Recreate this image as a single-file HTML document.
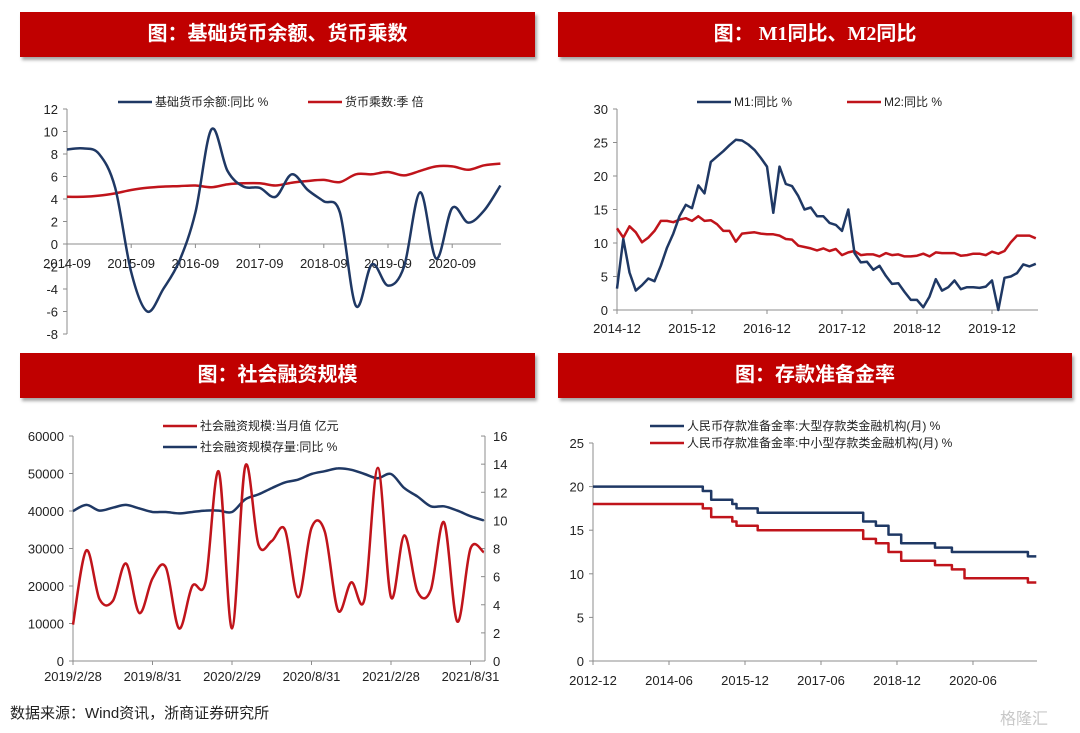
<!DOCTYPE html>
<html><head><meta charset="utf-8">
<style>
body{margin:0;background:#fff;width:1080px;height:733px;overflow:hidden;position:relative;font-family:"Liberation Sans","Noto Sans CJK SC",sans-serif;}
.banner{position:absolute;height:45px;background:#c00000;color:#fff;font-weight:bold;font-size:20px;line-height:45px;text-align:center;box-shadow:2px 3px 3px rgba(0,0,0,0.35);font-family:"Liberation Serif","Noto Sans CJK SC",sans-serif;}
svg{position:absolute;left:0;top:0;}
svg text{font-family:"Liberation Sans","Noto Sans CJK SC",sans-serif;fill:#222;}
</style></head><body>
<div class="banner" style="left:20px;top:12px;width:515px">图：基础货币余额、货币乘数</div>
<div class="banner" style="left:558px;top:12px;width:514px">图： M1同比、M2同比</div>
<div class="banner" style="left:20px;top:353px;width:515px">图：社会融资规模</div>
<div class="banner" style="left:558px;top:353px;width:514px">图：存款准备金率</div>
<svg id="s" width="1080" height="733">
<text x="10" y="718" font-size="15">数据来源：Wind资讯，浙商证券研究所</text>
<text x="1000" y="724" font-size="16" style="fill:#c8c8c8">格隆汇</text>
</svg>
<script>
// ---- Chart 1: base money & multiplier (quarterly, from 2014-09)
const c1Ticks=["2014-09","2015-09","2016-09","2017-09","2018-09","2019-09","2020-09"];
const c1Base=[8.4,8.5,8.0,5.0,-2.5,-6.0,-4.0,-1.5,2.8,10.2,6.5,5.1,5.0,4.2,6.2,4.8,3.8,2.8,-5.5,-1.8,-3.7,-2.0,4.6,-1.3,3.2,1.9,3.0,5.2];
const c1Mult=[4.2,4.2,4.3,4.5,4.8,5.0,5.1,5.15,5.2,5.05,5.3,5.4,5.4,5.2,5.45,5.6,5.7,5.5,6.2,6.2,6.4,6.1,6.5,6.9,6.9,6.6,7.0,7.15];
// ---- Chart 2: M1, M2 (monthly, from 2014-12)
const c2Ticks=["2014-12","2015-12","2016-12","2017-12","2018-12","2019-12"];
const c2M1=[3.2,10.6,5.6,2.9,3.7,4.7,4.3,6.6,9.3,11.4,14.0,15.7,15.2,18.6,17.4,22.1,22.9,23.7,24.6,25.4,25.3,24.7,23.9,22.7,21.4,14.5,21.4,18.8,18.5,17.0,15.0,15.3,14.0,14.0,13.0,12.7,11.8,15.0,8.5,7.1,7.2,6.0,6.6,5.1,3.9,4.0,2.7,1.5,1.5,0.4,2.0,4.6,2.9,3.4,4.4,3.1,3.4,3.4,3.3,3.5,4.4,0.0,4.8,5.0,5.5,6.8,6.5,6.9];
const c2M2=[12.2,10.8,12.5,11.6,10.1,10.8,11.8,13.3,13.3,13.1,13.5,13.7,13.3,14.0,13.3,13.4,12.8,11.8,11.8,10.2,11.4,11.5,11.6,11.4,11.3,11.3,11.1,10.6,10.5,9.6,9.4,9.2,8.9,9.2,8.8,9.1,8.2,8.6,8.8,8.2,8.3,8.3,8.0,8.5,8.2,8.3,8.0,8.0,8.1,8.4,8.0,8.6,8.5,8.5,8.5,8.1,8.2,8.4,8.4,8.2,8.7,8.4,8.8,10.1,11.1,11.1,11.1,10.7];
// ---- Chart 3: TSF (monthly, from 2019-02)
const c3Ticks=["2019/2/28","2019/8/31","2020/2/29","2020/8/31","2021/2/28","2021/8/31"];
const c3Flow=[9700,29500,16500,16000,26000,12800,22000,25000,8700,20000,21000,50500,8700,52000,31000,32000,35000,17000,35500,34500,13500,21000,16500,51500,17000,33500,18500,19000,37000,10500,30000,29000];
const c3Stock=[10.66,11.1,10.7,10.9,11.1,10.85,10.6,10.6,10.5,10.6,10.7,10.7,10.6,11.5,11.85,12.3,12.7,12.9,13.3,13.5,13.7,13.6,13.3,13.0,13.3,12.3,11.7,11.0,11.0,10.7,10.3,10.0];
// ---- Chart 4: RRR step changes (month index from 2012-12)
const c4Ticks=["2012-12","2014-06","2015-12","2017-06","2018-12","2020-06"];
const c4ChangeMonths=[0,26,28,33,34,39,64,67,70,73,81,85,88,103];
const c4Large=[20,19.5,18.5,18.0,17.5,17.0,16.0,15.5,14.5,13.5,13.0,12.5,12.5,12.0];
const c4Small=[18,17.5,16.5,16.0,15.5,15.0,14.0,13.5,12.5,11.5,11.0,10.5,9.5,9.0];
const c4End=105;

const NS="http://www.w3.org/2000/svg";
const S=document.getElementById('s');
const BLUE="#1f3864",RED="#c0141b",AX="#8c8c8c";
function mk(tag,attrs){const e=document.createElementNS(NS,tag);for(const k in attrs)e.setAttribute(k,attrs[k]);S.appendChild(e);return e;}
function txt(x,y,s,anchor,size){const t=mk('text',{x:x,y:y,'font-size':size||13,'text-anchor':anchor||'start'});t.textContent=s;return t;}
function smooth(pts){let d="M"+pts[0][0]+","+pts[0][1];for(let i=0;i<pts.length-1;i++){const p0=pts[i-1]||pts[i],p1=pts[i],p2=pts[i+1],p3=pts[i+2]||p2;
const c1x=p1[0]+(p2[0]-p0[0])/6,c1y=p1[1]+(p2[1]-p0[1])/6,c2x=p2[0]-(p3[0]-p1[0])/6,c2y=p2[1]-(p3[1]-p1[1])/6;
d+=" C"+c1x.toFixed(1)+","+c1y.toFixed(1)+" "+c2x.toFixed(1)+","+c2y.toFixed(1)+" "+p2[0].toFixed(1)+","+p2[1].toFixed(1);}return d;}
function poly(pts){return "M"+pts.map(p=>p[0].toFixed(1)+","+p[1].toFixed(1)).join(" L");}
function legend(x,y,color,label,name){
  const l=mk('line',{x1:x,y1:y,x2:x+34,y2:y,stroke:color,'stroke-width':2.5});
  
  
  const t=txt(x+37,y+4,label,'start',12);
  
  
}
function yAxis(x,yTop,yBot,vals,ys,labelX,anchor,name,tickDir){
  const a=mk('line',{x1:x,y1:yTop,x2:x,y2:yBot,stroke:AX,'stroke-width':1});
  
  
  vals.forEach(v=>{const y=ys(v);mk('line',{x1:x,y1:y,x2:x+tickDir*4,y2:y,stroke:AX});
    const t=txt(labelX,y+5,String(v),anchor,13);
    
    });
}
function xAxis(x0,x1,y,ticks,xs,labelY,name){
  const a=mk('line',{x1:x0,y1:y,x2:x1,y2:y,stroke:AX,'stroke-width':1});
  
  
  ticks.forEach((s,i)=>{const x=xs(i);mk('line',{x1:x,y1:y,x2:x,y2:y+4,stroke:AX});
    const t=txt(x,labelY,s,'middle',13);
    
    });
}
function series(d,color,name){const p=mk('path',{d:d,fill:'none',stroke:color,'stroke-width':2.5,'stroke-linejoin':'round'});
  
  }

// Chart 1
{const xs=i=>67+i*16.05, ys=v=>244-v*11.25;
 const yv=[];for(let v=-8;v<=12;v+=2)yv.push(v);
 yAxis(67,109,334,yv,ys,58,'end','c1-y-axis',-1);
 xAxis(67,501,244,c1Ticks,i=>xs(i*4),268,'c1-x-axis');
 series(smooth(c1Mult.map((v,i)=>[xs(i),ys(v)])),RED,'c1-multiplier-line');
 series(smooth(c1Base.map((v,i)=>[xs(i),ys(v)])),BLUE,'c1-base-money-line');
 legend(118,102,BLUE,'基础货币余额:同比 %','c1-legend-base');
 legend(308,102,RED,'货币乘数:季 倍','c1-legend-mult');}
// Chart 2
{const xs=i=>617+i*6.25, ys=v=>310-v*6.7;
 const yv=[0,5,10,15,20,25,30];
 yAxis(617,109,310,yv,ys,608,'end','c2-y-axis',-1);
 xAxis(617,1038,310,c2Ticks,i=>xs(i*12),333,'c2-x-axis');
 series(poly(c2M2.map((v,i)=>[xs(i),ys(v)])),RED,'c2-m2-line');
 series(poly(c2M1.map((v,i)=>[xs(i),ys(v)])),BLUE,'c2-m1-line');
 legend(697,102,BLUE,'M1:同比 %','c2-legend-m1');
 legend(847,102,RED,'M2:同比 %','c2-legend-m2');}
// Chart 3
{const xs=i=>73+i*13.25, yl=v=>661-v*0.00375, yr=v=>661-v*14.06;
 yAxis(73,436,661,[0,10000,20000,30000,40000,50000,60000],yl,64,'end','c3-left-y-axis',-1);
 yAxis(485,436,661,[0,2,4,6,8,10,12,14,16],yr,493,'start','c3-right-y-axis',-1);
 xAxis(73,485,661,c3Ticks,i=>xs(i*6),681,'c3-x-axis');
 series(smooth(c3Stock.map((v,i)=>[xs(i),yr(v)])),BLUE,'c3-stock-growth-line');
 series(smooth(c3Flow.map((v,i)=>[xs(i),yl(v)])),RED,'c3-monthly-tsf-line');
 legend(163,426,RED,'社会融资规模:当月值 亿元','c3-legend-flow');
 legend(163,447,BLUE,'社会融资规模存量:同比 %','c3-legend-stock');}
// Chart 4
{const xs=i=>593+i*4.222, ys=v=>661-v*8.72;
 yAxis(593,443,661,[0,5,10,15,20,25],ys,584,'end','c4-y-axis',-1);
 xAxis(593,1037,661,c4Ticks,i=>xs(i*18),685,'c4-x-axis');
 function step(vals){const pts=[];c4ChangeMonths.forEach((m,k)=>{if(k>0)pts.push([xs(m),ys(vals[k-1])]);pts.push([xs(m),ys(vals[k])]);});
   pts.push([xs(c4End),ys(vals[vals.length-1])]);return poly(pts);}
 series(step(c4Large),BLUE,'c4-large-bank-rrr-line');
 series(step(c4Small),RED,'c4-small-bank-rrr-line');
 legend(650,426,BLUE,'人民币存款准备金率:大型存款类金融机构(月) %','c4-legend-large');
 legend(650,443,RED,'人民币存款准备金率:中小型存款类金融机构(月) %','c4-legend-small');}
</script>
</body></html>
